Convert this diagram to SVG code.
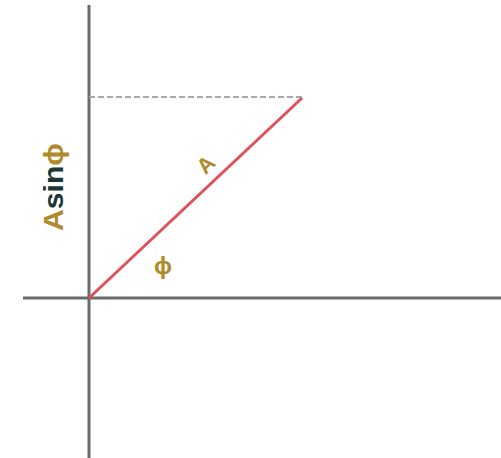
<svg xmlns="http://www.w3.org/2000/svg" width="501" height="458" viewBox="0 0 501 458">
<style>
.axis{stroke:#6b6b6b;stroke-width:3;fill:none}
.lbl{font-family:"Liberation Sans",Arial,sans-serif;fill:#b08a2e;font-weight:bold}
</style>
<rect width="501" height="458" fill="#fff"/>
<g id="connectors">
<line class="axis" x1="89" y1="5" x2="89" y2="458"/>
<line class="axis" x1="23" y1="298" x2="501" y2="298"/>
<line x1="89" y1="97" x2="302" y2="97" stroke="#a8a8a8" stroke-width="2" stroke-dasharray="6 3"/>
<line x1="89" y1="298" x2="302" y2="98" stroke="#e0505a" stroke-width="3"/>
</g>
<g id="label-asin">
<text class="lbl" transform="translate(63,231) rotate(-90)" font-size="28" textLength="88" lengthAdjust="spacingAndGlyphs">A<tspan fill="#203535">sin</tspan>ϕ</text>
</g>
<g id="label-A">
<text class="lbl" transform="translate(211,170) rotate(-45)" font-size="22" text-anchor="middle">A</text>
</g>
<g id="label-phi">
<text class="lbl" x="163" y="274" font-size="24" text-anchor="middle">ϕ</text>
</g>
</svg>
